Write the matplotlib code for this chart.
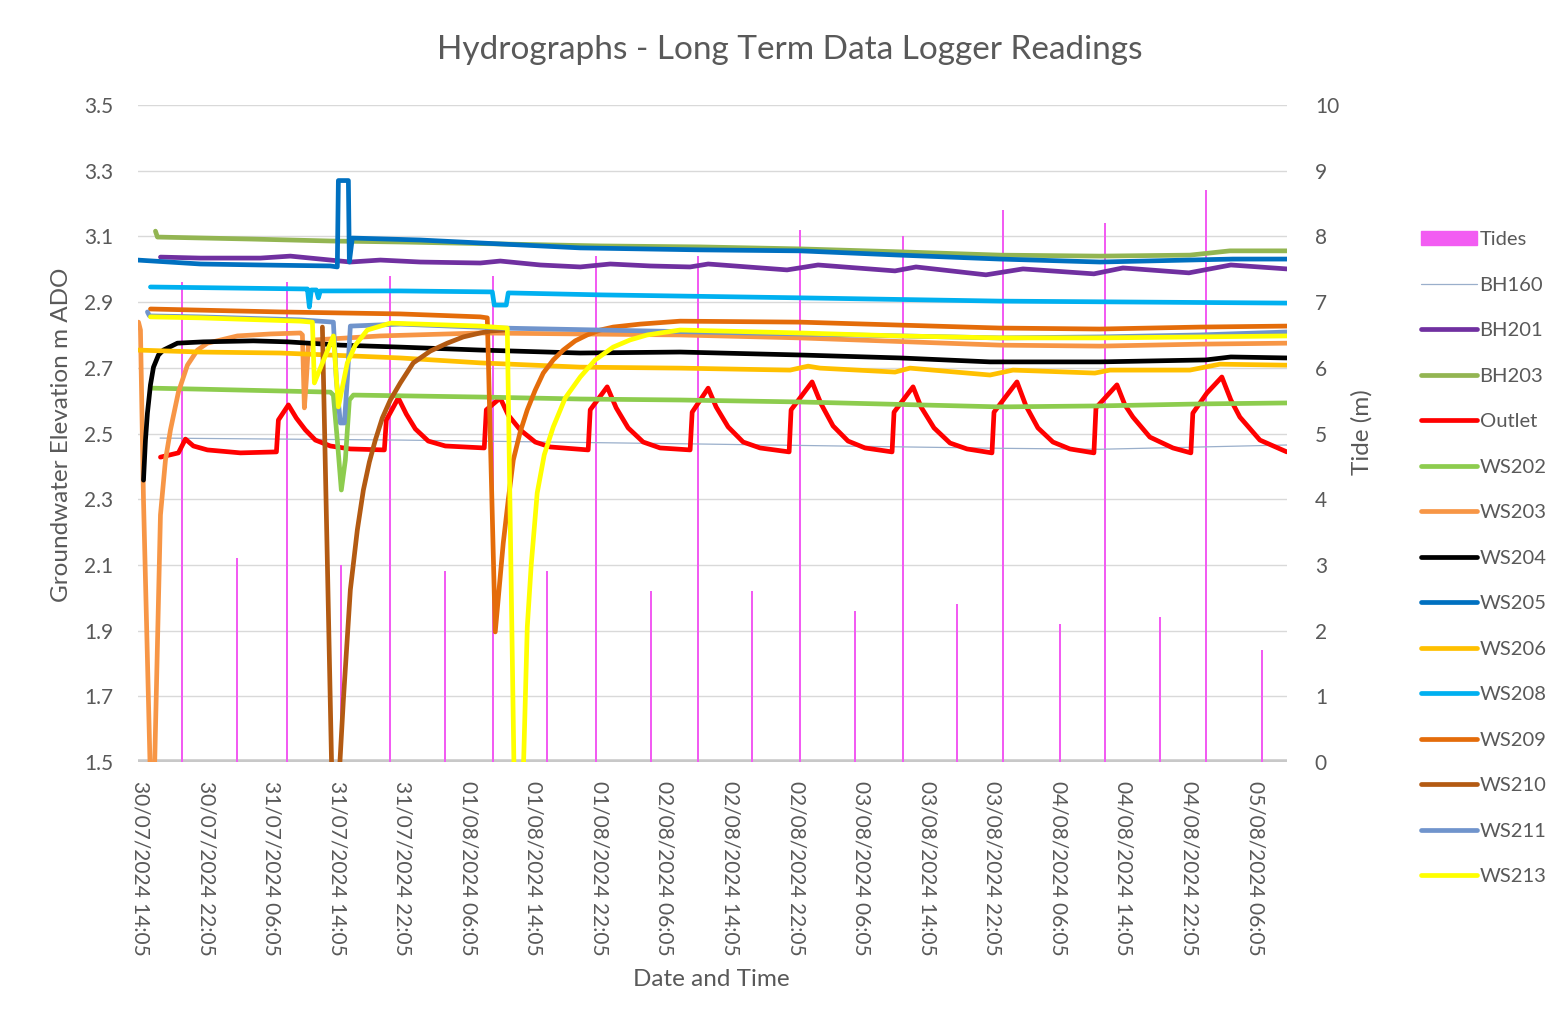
import matplotlib
matplotlib.use("Agg")
import matplotlib.pyplot as plt
from matplotlib.lines import Line2D
from matplotlib.patches import Patch

plt.rcParams['font.family'] = ['Lato', 'DejaVu Sans']

#x values are hours after 30/07/2024 14:05
TICK_H = list(range(0, 137, 8))
TICK_LABELS = [
    "30/07/2024 14:05", "30/07/2024 22:05", "31/07/2024 06:05", "31/07/2024 14:05",
    "31/07/2024 22:05", "01/08/2024 06:05", "01/08/2024 14:05", "01/08/2024 22:05",
    "02/08/2024 06:05", "02/08/2024 14:05", "02/08/2024 22:05", "03/08/2024 06:05",
    "03/08/2024 14:05", "03/08/2024 22:05", "04/08/2024 06:05", "04/08/2024 14:05",
    "04/08/2024 22:05", "05/08/2024 06:05",
]

#tides (secondary axis, m)
TIDE_H = [5.1, 11.8, 17.9, 24.5, 30.5, 37.2, 43.0, 49.6, 55.6, 62.3, 68.0,
          74.6, 80.5, 87.2, 93.0, 99.6, 105.2, 112.2, 117.7, 124.4, 130.0, 136.8]
TIDE_M = [7.3, 3.1, 7.3, 3.0, 7.4, 2.9, 7.4, 2.9, 7.7, 2.6, 7.7,
          2.6, 8.1, 2.3, 8.0, 2.4, 8.4, 2.1, 8.2, 2.2, 8.7, 1.7]

BH160_H = [2.4, 31.7, 68.3, 104.9, 117.1, 139.9]
BH160_V = [2.486, 2.480, 2.468, 2.455, 2.452, 2.465]

BH201_H = [2.44, 7.32, 14.63, 18.29, 23.17, 25.61, 29.27, 34.15, 41.46, 43.90, 48.78,
           53.66, 57.32, 62.20, 67.07, 69.27, 78.90, 82.68, 92.07, 94.63, 103.17,
           107.68, 116.34, 119.88, 127.93, 133.05, 139.88]
BH201_V = [3.037, 3.034, 3.034, 3.040, 3.028, 3.022, 3.028, 3.022, 3.019, 3.025, 3.013,
           3.007, 3.016, 3.010, 3.007, 3.016, 2.998, 3.013, 2.995, 3.007, 2.983,
           3.001, 2.986, 3.004, 2.989, 3.013, 3.001]

BH203_H = [1.83, 2.07, 13.41, 23.17, 31.71, 43.90, 56.10, 68.29, 80.49, 92.68,
           104.88, 117.07, 128.05, 132.93, 139.88]
BH203_V = [3.116, 3.098, 3.092, 3.086, 3.083, 3.077, 3.071, 3.068, 3.062, 3.053,
           3.043, 3.040, 3.043, 3.056, 3.056]

OUTLET_H = [2.44, 4.63, 5.49, 6.46, 8.17, 12.20, 16.59,
            16.83, 18.05, 19.02, 20.12, 21.34, 23.17, 25.61, 29.76,
            30.00, 31.46, 32.44, 33.54, 35.12, 37.20, 41.95,
            42.20, 43.90, 44.88, 46.34, 48.17, 50.00, 54.63,
            54.88, 56.95, 58.05, 59.51, 61.34, 63.41, 67.07,
            67.32, 69.27, 70.24, 71.71, 73.54, 75.61, 79.15,
            79.39, 81.95, 83.05, 84.51, 86.34, 88.41, 91.71,
            91.95, 94.27, 95.24, 96.83, 98.78, 100.85, 103.90,
            104.15, 106.95, 108.05, 109.51, 111.34, 113.41, 116.34,
            116.59, 119.15, 120.12, 121.10, 123.17, 125.98, 128.17,
            128.41, 130.12, 131.95, 133.05, 134.15, 136.59, 139.88]
OUTLET_V = [2.428, 2.441, 2.483, 2.462, 2.450, 2.441, 2.444,
            2.541, 2.587, 2.547, 2.511, 2.480, 2.462, 2.453, 2.450,
            2.541, 2.608, 2.559, 2.514, 2.477, 2.462, 2.456,
            2.572, 2.608, 2.556, 2.511, 2.474, 2.459, 2.450,
            2.572, 2.642, 2.578, 2.517, 2.474, 2.456, 2.450,
            2.565, 2.638, 2.581, 2.520, 2.474, 2.456, 2.444,
            2.572, 2.657, 2.590, 2.523, 2.477, 2.456, 2.444,
            2.565, 2.642, 2.581, 2.517, 2.471, 2.453, 2.441,
            2.565, 2.657, 2.584, 2.517, 2.474, 2.453, 2.441,
            2.578, 2.648, 2.587, 2.550, 2.489, 2.456, 2.441,
            2.562, 2.623, 2.672, 2.602, 2.550, 2.480, 2.444]

WS202_H = [1.46, 7.32, 23.17, 23.54, 24.02, 24.51, 25.00, 25.49, 25.98, 41.46,
           53.66, 65.85, 80.49, 104.88, 117.07, 129.27, 139.88]
WS202_V = [2.638, 2.635, 2.626, 2.617, 2.480, 2.328, 2.419, 2.602, 2.617, 2.611,
           2.605, 2.602, 2.596, 2.581, 2.584, 2.590, 2.593]

WS203_H = [-0.24, 0.00, 0.37, 1.46, 2.44, 3.05, 3.66, 4.63, 5.73, 6.95, 8.17, 11.83,
           15.85, 19.51, 19.76, 20.00, 20.24, 20.49, 21.34, 29.27, 41.46, 53.66,
           65.85, 80.49, 104.88, 117.07, 129.27, 139.88]
WS203_V = [2.839, 2.815, 2.298, 1.20, 2.252, 2.419, 2.511, 2.626, 2.708, 2.754, 2.775, 2.797,
           2.803, 2.806, 2.800, 2.578, 2.663, 2.769, 2.785, 2.797, 2.806, 2.803,
           2.800, 2.791, 2.769, 2.766, 2.772, 2.775]

WS204_H = [0.37, 0.61, 0.85, 1.22, 1.59, 2.20, 2.80, 4.51, 7.68, 13.78, 17.93, 24.39,
           31.71, 41.46, 53.66, 65.85, 80.49, 92.68, 103.66, 117.07, 130.00, 133.05, 139.88]
WS204_V = [2.358, 2.480, 2.562, 2.648, 2.702, 2.739, 2.754, 2.775, 2.779, 2.782, 2.779, 2.769,
           2.763, 2.754, 2.745, 2.748, 2.739, 2.730, 2.718, 2.718, 2.724, 2.733, 2.730]

WS205_H = [-0.37, 7.32, 14.63, 23.17, 24.02, 24.15, 25.37, 25.49, 25.85, 34.15, 43.90,
           53.66, 68.29, 80.49, 92.68, 104.88, 117.07, 133.29, 139.88]
WS205_V = [3.028, 3.016, 3.013, 3.010, 3.007, 3.270, 3.270, 3.022, 3.095, 3.089, 3.077,
           3.065, 3.059, 3.056, 3.043, 3.031, 3.022, 3.031, 3.031]

WS206_H = [-0.37, 7.32, 17.07, 31.71, 41.46, 53.66, 65.85, 79.27, 81.46, 82.93, 92.07,
           93.90, 103.66, 106.46, 116.46, 118.29, 128.05, 131.71, 139.88]
WS206_V = [2.754, 2.748, 2.745, 2.730, 2.715, 2.702, 2.699, 2.693, 2.705, 2.699, 2.687,
           2.699, 2.678, 2.693, 2.684, 2.693, 2.693, 2.711, 2.708]

WS208_H = [1.22, 20.12, 20.37, 20.61, 20.85, 21.46, 21.71, 21.95, 31.71, 42.93, 43.17,
           44.63, 44.88, 56.10, 80.49, 104.88, 139.88]
WS208_V = [2.946, 2.940, 2.940, 2.885, 2.937, 2.937, 2.913, 2.934, 2.934, 2.931, 2.891,
           2.891, 2.928, 2.922, 2.913, 2.903, 2.897]

WS209_H = [1.22, 17.07, 31.71, 41.46, 42.32, 43.29, 44.27, 44.88, 45.49, 46.34, 47.20,
           48.17, 49.15, 50.37, 51.59, 53.05, 54.51, 56.10, 57.68, 60.98, 65.85,
           80.49, 92.68, 104.88, 117.07, 129.27, 139.88]
WS209_V = [2.879, 2.870, 2.864, 2.855, 2.852, 1.896, 2.167, 2.298, 2.419, 2.505, 2.572,
           2.632, 2.684, 2.724, 2.754, 2.782, 2.800, 2.815, 2.824, 2.833, 2.842,
           2.839, 2.830, 2.821, 2.818, 2.824, 2.827]

WS210_H = [22.20, 22.44, 22.80, 23.54, 24.15, 24.76, 25.61, 26.46, 27.20, 27.93, 28.66,
           29.51, 30.49, 31.71, 33.29, 35.37, 37.44, 39.39, 41.46, 42.68, 44.5]
WS210_V = [2.824, 2.541, 2.115, 1.232, 1.415, 1.689, 2.024, 2.206, 2.328, 2.413, 2.480,
           2.547, 2.602, 2.654, 2.715, 2.751, 2.775, 2.794, 2.806, 2.812, 2.815]

WS211_H = [0.85, 1.10, 7.32, 19.51, 23.54, 23.90, 24.39, 24.88, 25.24, 25.61, 31.71,
           43.90, 56.10, 68.29, 80.49, 104.88, 117.07, 129.27, 139.88]
WS211_V = [2.870, 2.858, 2.855, 2.846, 2.839, 2.663, 2.532, 2.532, 2.663, 2.827, 2.833,
           2.821, 2.815, 2.809, 2.803, 2.791, 2.794, 2.800, 2.809]

WS213_H = [1.22, 7.32, 19.51, 20.98, 21.22, 23.54, 24.15, 25.24, 26.22, 27.68, 30.49,
           41.46, 44.76, 45.73, 46.46, 47.20, 47.68, 48.41, 49.27, 50.37, 51.83, 53.66,
           55.49, 57.68, 59.76, 61.83, 65.85, 80.49, 92.68, 104.88, 117.07, 129.27, 139.88]
WS213_V = [2.855, 2.852, 2.842, 2.839, 2.654, 2.797, 2.581, 2.715, 2.769, 2.815, 2.836,
           2.827, 2.821, 1.232, 1.232, 1.911, 2.100, 2.319, 2.435, 2.520, 2.608, 2.672,
           2.724, 2.763, 2.785, 2.800, 2.815, 2.806, 2.797, 2.791, 2.791, 2.794, 2.797]

SERIES = [
    ("BH160", BH160_H, BH160_V, "#9AAFCB", 0.9),
    ("BH201", BH201_H, BH201_V, "#7030A0", 3.4),
    ("BH203", BH203_H, BH203_V, "#93B552", 3.4),
    ("Outlet", OUTLET_H, OUTLET_V, "#FF0000", 3.4),
    ("WS202", WS202_H, WS202_V, "#8DCC4E", 3.4),
    ("WS203", WS203_H, WS203_V, "#F79646", 3.4),
    ("WS204", WS204_H, WS204_V, "#000000", 3.4),
    ("WS205", WS205_H, WS205_V, "#0070C0", 3.4),
    ("WS206", WS206_H, WS206_V, "#FFC000", 3.4),
    ("WS208", WS208_H, WS208_V, "#00B0F0", 3.4),
    ("WS209", WS209_H, WS209_V, "#E46C0A", 3.4),
    ("WS210", WS210_H, WS210_V, "#B35A12", 3.4),
    ("WS211", WS211_H, WS211_V, "#7094CC", 3.4),
    ("WS213", WS213_H, WS213_V, "#FFFF00", 3.4),
]
TIDE_COLOR = "#F25CF2"
TEXT = "#595959"

fig = plt.figure(figsize=(15.55, 10.26), dpi=100)
ax = fig.add_axes([138 / 1555, 1 - 762 / 1026, (1287 - 138) / 1555, (762 - 105) / 1026])
ax2 = ax.twinx()
ax.set_zorder(ax2.get_zorder() + 1)
ax.patch.set_visible(False)

#tides + gridlines on the lower (secondary) axis
ax2.set_ylim(0, 10)
ax2.set_yticks(range(0, 11))
ax2.grid(axis="y", color="#D9D9D9", lw=1)
ax2.set_axisbelow(True)
ax2.bar(TIDE_H, TIDE_M, width=0.25, color=TIDE_COLOR, zorder=3)
ax2.axhline(0, color="#C8C8C8", lw=4, zorder=2)

for name, h, v, col, lw in SERIES:
    ax.plot(h, v, color=col, lw=lw, solid_joinstyle="round", solid_capstyle="round")

ax.set_xlim(-0.3, 139.9)
ax.set_ylim(1.5, 3.5)
ax.set_yticks([1.5, 1.7, 1.9, 2.1, 2.3, 2.5, 2.7, 2.9, 3.1, 3.3, 3.5])
ax.set_yticklabels(["1.5", "1.7", "1.9", "2.1", "2.3", "2.5", "2.7", "2.9", "3.1", "3.3", "3.5"])
ax.set_xticks(TICK_H)
ax.set_xticklabels(TICK_LABELS, rotation=-90, va="top", ha="center")

for a in (ax, ax2):
    for s in a.spines.values():
        s.set_visible(False)
ax.tick_params(axis="y", length=0, pad=18, labelsize=15, labelcolor=TEXT)
ax.tick_params(axis="x", length=0, pad=14, labelsize=15, labelcolor=TEXT)
ax2.tick_params(axis="y", length=0, pad=20, labelsize=15, labelcolor=TEXT)

fig.text(790 / 1555, 1 - 50 / 1026, "Hydrographs - Long Term Data Logger Readings",
         ha="center", va="center", fontsize=24, color=TEXT)
fig.text(62 / 1555, 1 - 435 / 1026, "Groundwater Elevation m ADO", rotation=90,
         ha="center", va="center", fontsize=17.5, color=TEXT)
fig.text(1362 / 1555, 1 - 432 / 1026, "Tide (m)", rotation=90,
         ha="center", va="center", fontsize=17.5, color=TEXT)
fig.text(711 / 1555, 1 - 980 / 1026, "Date and Time",
         ha="center", va="center", fontsize=17.5, color=TEXT)

handles = [Patch(color=TIDE_COLOR, label="Tides")]
for name, h, v, col, lw in SERIES:
    handles.append(Line2D([], [], color=col, lw=lw, label=name, solid_capstyle="round"))
fig.legend(handles=handles, loc="upper left", bbox_to_anchor=(1403 / 1555, 1 - 213 / 1026),
           frameon=False, fontsize=14.5, handlelength=2.75, handletextpad=0.15,
           labelspacing=1.41, labelcolor=TEXT)

fig.savefig("out.png", dpi=100)
